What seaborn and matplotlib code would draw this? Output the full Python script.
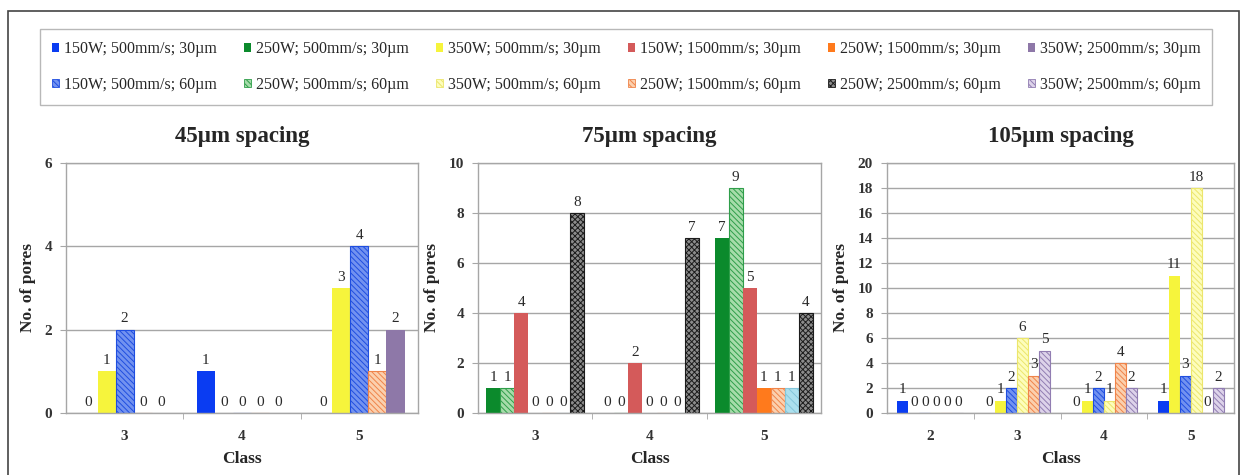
import matplotlib
matplotlib.use("Agg")
import matplotlib.pyplot as plt
from matplotlib.patches import Patch, Rectangle
import seaborn as sns
import pandas as pd

# series names (as in the legend)
S150_500_30 = "150W; 500mm/s; 30µm"
S250_500_30 = "250W; 500mm/s; 30µm"
S350_500_30 = "350W; 500mm/s; 30µm"
S150_1500_30 = "150W; 1500mm/s; 30µm"
S250_1500_30 = "250W; 1500mm/s; 30µm"
S350_2500_30 = "350W; 2500mm/s; 30µm"
S150_500_60 = "150W; 500mm/s; 60µm"
S250_500_60 = "250W; 500mm/s; 60µm"
S350_500_60 = "350W; 500mm/s; 60µm"
S250_1500_60 = "250W; 1500mm/s; 60µm"
S250_2500_60 = "250W; 2500mm/s; 60µm"
S350_2500_60 = "350W; 2500mm/s; 60µm"
S_UNLISTED = "unlisted"  # light blue bar in the 75um chart, not in the legend

legend_row1 = [S150_500_30, S250_500_30, S350_500_30, S150_1500_30, S250_1500_30, S350_2500_30]
legend_row2 = [S150_500_60, S250_500_60, S350_500_60, S250_1500_60, S250_2500_60, S350_2500_60]

# 45um spacing
classes_45 = ["3", "4", "5"]
series_45 = [S150_500_30, S350_500_30, S150_500_60, S250_1500_60, S350_2500_30]
counts_45 = [[0, 1, 0],
             [1, 0, 3],
             [2, 0, 4],
             [0, 0, 1],
             [0, 0, 2]]

# 75um spacing
classes_75 = ["3", "4", "5"]
series_75 = [S250_500_30, S250_500_60, S150_1500_30, S250_1500_30, S250_1500_60, S_UNLISTED, S250_2500_60]
counts_75 = [[1, 0, 7],
             [1, 0, 9],
             [4, 2, 5],
             [0, 0, 1],
             [0, 0, 1],
             [0, 0, 1],
             [8, 7, 4]]

# 105um spacing
classes_105 = ["2", "3", "4", "5"]
series_105 = [S150_500_30, S350_500_30, S150_500_60, S350_500_60, S250_1500_60, S350_2500_60]
counts_105 = [[1, 0, 0, 1],
              [0, 1, 1, 11],
              [0, 2, 2, 3],
              [0, 6, 1, 18],
              [0, 3, 4, 0],
              [0, 5, 2, 2]]

# face colour, hatch colour, hatch
styles = {
    S150_500_30: ("#0a3cf2", None, None),
    S250_500_30: ("#0b8a2c", None, None),
    S350_500_30: ("#f6f43c", None, None),
    S150_1500_30: ("#d45a5a", None, None),
    S250_1500_30: ("#ff7a1c", None, None),
    S350_2500_30: ("#8e78a8", None, None),
    S150_500_60: ("#7292f0", "#1f4ee0", "\\\\\\\\\\\\"),
    S250_500_60: ("#a6dcaa", "#2f9e4a", "\\\\\\\\\\\\"),
    S350_500_60: ("#fdfdbc", "#ece66c", "\\\\\\\\\\\\"),
    S250_1500_60: ("#fbd0ae", "#f0844a", "\\\\\\\\\\\\"),
    S250_2500_60: ("#8c8c8c", "#1c1c1c", "xxxxxx"),
    S350_2500_60: ("#ddd3ea", "#917db2", "\\\\\\\\\\\\"),
    S_UNLISTED: ("#ace0ee", "#84c6da", "\\\\\\\\"),
}

sns.set_style("white")
plt.rcParams["font.family"] = ["Liberation Serif", "DejaVu Serif"]
plt.rcParams["hatch.linewidth"] = 0.7

W, H = 1245, 475
fig = plt.figure(figsize=(W / 100, H / 100), dpi=100)

panels = [
    ("45µm spacing", classes_45, series_45, counts_45, 6, [0, 2, 4, 6], 0.77, (66, 418)),
    ("75µm spacing", classes_75, series_75, counts_75, 10, list(range(0, 11, 2)), 0.86, (478, 821)),
    ("105µm spacing", classes_105, series_105, counts_105, 20, list(range(0, 21, 2)), 0.76, (887, 1234)),
]

grey = "#a6a6a6"
for title, classes, series, counts, ymax, yticks, width, (x0, x1) in panels:
    ax = fig.add_axes([x0 / W, (H - 413) / H, (x1 - x0) / W, (413 - 163) / H])
    rows = []
    for name, vals in zip(series, counts):
        for c, v in zip(classes, vals):
            rows.append({"Class": c, "series": name, "pores": v})
    df = pd.DataFrame(rows)
    pal = {s: styles[s][0] for s in series}
    sns.barplot(data=df, x="Class", y="pores", hue="series", order=classes,
                hue_order=series, palette=pal, saturation=1, width=width,
                legend=False, ax=ax, linewidth=0, errorbar=None)
    for cont, name in zip(ax.containers, series):
        face, edge, hatch = styles[name]
        for bar in cont:
            if hatch:
                bar.set_edgecolor(edge)
                bar.set_hatch(hatch)
                bar.set_linewidth(0.8)
        ax.bar_label(cont, fmt="%g", padding=3, fontsize=11, color="#2a2a2a")

    ax.set_ylim(0, ymax)
    ax.set_yticks(yticks)
    ax.set_xlim(-0.5, len(classes) - 0.5)
    ax.yaxis.grid(True, color=grey, lw=1)
    ax.set_axisbelow(True)
    for sp in ax.spines.values():
        sp.set_color(grey)
        sp.set_linewidth(1)
    ax.set_xticks([i + 0.5 for i in range(len(classes) - 1)], minor=True)
    ax.tick_params(axis="x", which="major", length=0, pad=12, labelsize=11, labelcolor="#333333")
    ax.tick_params(axis="x", which="minor", length=4, color=grey, direction="out", bottom=True)
    ax.tick_params(axis="y", length=4, color=grey, direction="out", left=True, labelsize=11,
                   labelcolor="#333333", pad=6)
    for lbl in ax.get_xticklabels() + ax.get_yticklabels():
        lbl.set_fontweight("bold")
    ax.set_title(title, fontsize=16.5, fontweight="bold", pad=15)
    ax.set_xlabel("Class", fontsize=12.5, fontweight="bold", labelpad=6)
    ax.set_ylabel("No. of pores", fontsize=12.5, fontweight="bold", labelpad=6)

# legend (row-wise order as in the original, matplotlib fills column-wise)
handles, labels = [], []
for a, b in zip(legend_row1, legend_row2):
    for name in (a, b):
        face, edge, hatch = styles[name]
        if hatch:
            handles.append(Patch(facecolor=face, edgecolor=edge, hatch=hatch, lw=0.6))
        else:
            handles.append(Patch(facecolor=face, edgecolor=face, lw=0))
        labels.append(name)
fig.legend(handles, labels, ncol=6, loc="center", bbox_to_anchor=(626 / W, 1 - 67 / H),
           frameon=True, fancybox=False, edgecolor=grey, fontsize=11.5,
           handlelength=0.45, handleheight=0.45, handletextpad=0.3,
           columnspacing=1.7, labelspacing=1.2, borderpad=0.75)

# outer frame
fig.add_artist(Rectangle((8 / W, -0.1), (1239 - 8) / W, 1 - 11 / H + 0.1,
                         transform=fig.transFigure, fill=False, edgecolor="#444444", lw=1.2))

fig.savefig("out.png", dpi=100)
